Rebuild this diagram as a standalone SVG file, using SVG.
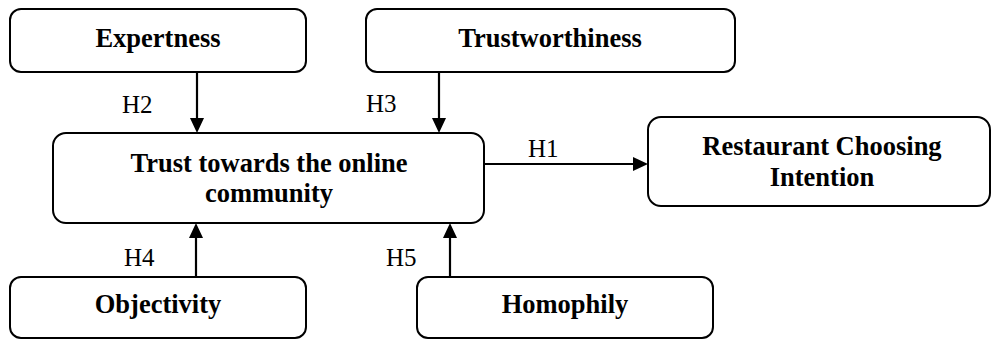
<svg xmlns="http://www.w3.org/2000/svg" width="992" height="340" viewBox="0 0 992 340">
<style>
  .box { fill: #ffffff; stroke: #000000; stroke-width: 2; }
  .lbl { font-family: "Liberation Serif", "Times New Roman", serif; font-weight: bold; font-size: 26.5px; fill: #000000; text-anchor: middle; }
  .h { font-family: "Liberation Serif", "Times New Roman", serif; font-size: 25px; fill: #000000; }
  .conn { stroke: #000000; stroke-width: 2.2; fill: none; marker-end: url(#arrow); }
</style>
<defs>
  <marker id="arrow" markerUnits="userSpaceOnUse" markerWidth="16" markerHeight="16" refX="5" refY="7" orient="auto">
    <path d="M0,0 L15,7 L0,14 Z" fill="#000000"/>
  </marker>
</defs>
<rect width="992" height="340" fill="#ffffff"/>
<g id="connectors">
  <line class="conn" x1="197" y1="72" x2="197" y2="123"/>
  <line class="conn" x1="439" y1="72" x2="439" y2="123"/>
  <line class="conn" x1="484" y1="164" x2="638" y2="164"/>
  <line class="conn" x1="196" y1="277" x2="196" y2="233"/>
  <line class="conn" x1="450" y1="277" x2="450" y2="233"/>
  <text class="h" x="122" y="113">H2</text>
  <text class="h" x="366" y="112">H3</text>
  <text class="h" x="528" y="157">H1</text>
  <text class="h" x="124" y="266">H4</text>
  <text class="h" x="386" y="266">H5</text>
</g>
<g id="expertness">
  <rect class="box" x="10" y="9" width="296" height="63" rx="11"/>
  <text class="lbl" x="158" y="47">Expertness</text>
</g>
<g id="trustworthiness">
  <rect class="box" x="366" y="9" width="369" height="63" rx="11"/>
  <text class="lbl" x="550" y="47">Trustworthiness</text>
</g>
<g id="trust">
  <rect class="box" x="53" y="133" width="431" height="90" rx="13"/>
  <text class="lbl" x="269" y="172">Trust towards the online</text>
  <text class="lbl" x="269" y="202">community</text>
</g>
<g id="restaurant">
  <rect class="box" x="648" y="117" width="342" height="89" rx="13"/>
  <text class="lbl" x="822" y="155">Restaurant Choosing</text>
  <text class="lbl" x="822" y="186">Intention</text>
</g>
<g id="objectivity">
  <rect class="box" x="10" y="277" width="296" height="61" rx="11"/>
  <text class="lbl" x="158" y="313">Objectivity</text>
</g>
<g id="homophily">
  <rect class="box" x="417" y="277" width="296" height="61" rx="11"/>
  <text class="lbl" x="565" y="313">Homophily</text>
</g>
</svg>
